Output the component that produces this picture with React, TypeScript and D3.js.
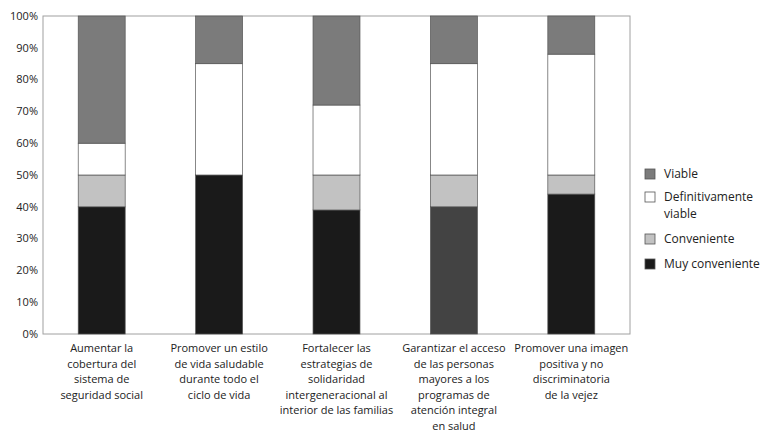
import { useEffect, useRef } from "react";
import * as d3 from "d3";

const categories = [
  ["Aumentar la", "cobertura del", "sistema de", "seguridad social"],
  ["Promover un estilo", "de vida saludable", "durante todo el", "ciclo de vida"],
  ["Fortalecer las", "estrategias de", "solidaridad", "intergeneracional al", "interior de las familias"],
  ["Garantizar el acceso", "de las personas", "mayores a los", "programas de", "atención integral", "en salud"],
  ["Promover una imagen", "positiva y no", "discriminatoria", "de la vejez"],
];

const muyConveniente = [40, 50, 39, 40, 44];
const conveniente = [10, 0, 11, 10, 6];
const definitivamenteViable = [10, 35, 22, 35, 38];
const viable = [40, 15, 28, 15, 12];

const seriesNames = ["Muy conveniente", "Conveniente", "Definitivamente viable", "Viable"];
const yTicks = [0, 10, 20, 30, 40, 50, 60, 70, 80, 90, 100];

const colors: Record<string, string> = {
  "Muy conveniente": "#1a1a1a",
  Conveniente: "#c2c2c2",
  "Definitivamente viable": "#ffffff",
  Viable: "#7b7b7b",
};

const FONT = "'Open Sans', 'Lato', sans-serif";

export default function App() {
  const ref = useRef<SVGSVGElement | null>(null);

  useEffect(() => {
    if (!ref.current) return;
    const svg = d3.select(ref.current);
    svg.selectAll("*").remove();

    const margin = { top: 16, left: 43, right: 133, bottom: 99 };
    const width = 763;
    const height = 433;
    const plotW = width - margin.left - margin.right;
    const plotH = height - margin.top - margin.bottom;

    const x = d3
      .scaleBand<number>()
      .domain(d3.range(categories.length))
      .range([margin.left, margin.left + plotW])
      .paddingInner(0.6)
      .paddingOuter(0.3);

    const y = d3.scaleLinear().domain([0, 100]).range([margin.top + plotH, margin.top]);

    const table = categories.map((_, i) => ({
      "Muy conveniente": muyConveniente[i],
      Conveniente: conveniente[i],
      "Definitivamente viable": definitivamenteViable[i],
      Viable: viable[i],
      idx: i,
    }));

    const stacked = d3.stack<any>().keys(seriesNames)(table);

    // frame
    svg
      .append("rect")
      .attr("x", margin.left)
      .attr("y", margin.top)
      .attr("width", plotW)
      .attr("height", plotH)
      .attr("fill", "none")
      .attr("stroke", "#a0a0a0")
      .attr("stroke-width", 1);

    stacked.forEach((layer) => {
      svg
        .append("g")
        .selectAll("rect")
        .data(layer)
        .join("rect")
        .filter((d) => d[1] - d[0] > 0)
        .attr("x", (d) => x(d.data.idx)!)
        .attr("width", x.bandwidth())
        .attr("y", (d) => y(d[1]))
        .attr("height", (d) => y(d[0]) - y(d[1]))
        .attr("fill", (d) =>
          layer.key === "Muy conveniente" && d.data.idx === 3 ? "#434343" : colors[layer.key]
        )
        .attr("stroke", "#555")
        .attr("stroke-width", 0.7);
    });

    // y axis labels
    svg
      .append("g")
      .selectAll("text")
      .data(yTicks)
      .join("text")
      .attr("x", margin.left - 5)
      .attr("y", (d) => y(d))
      .attr("dy", "0.35em")
      .attr("text-anchor", "end")
      .attr("font-family", FONT)
      .attr("font-size", 11)
      .attr("fill", "#222")
      .text((d) => `${d}%`);

    // x labels
    const xl = svg.append("g");
    categories.forEach((lines, i) => {
      const t = xl
        .append("text")
        .attr("text-anchor", "middle")
        .attr("font-family", FONT)
        .attr("font-size", 11)
        .attr("fill", "#222");
      lines.forEach((ln, j) => {
        t.append("tspan")
          .attr("x", x(i)! + x.bandwidth() / 2)
          .attr("y", margin.top + plotH + 18 + j * 15.5)
          .text(ln);
      });
    });

    // legend
    const legend = [
      { key: "Viable", lines: ["Viable"], y: 174 },
      { key: "Definitivamente viable", lines: ["Definitivamente", "viable"], y: 197 },
      { key: "Conveniente", lines: ["Conveniente"], y: 239 },
      { key: "Muy conveniente", lines: ["Muy conveniente"], y: 264 },
    ];
    const lg = svg.append("g");
    legend.forEach((item) => {
      lg.append("rect")
        .attr("x", 645)
        .attr("y", item.y - 5)
        .attr("width", 10)
        .attr("height", 10)
        .attr("fill", colors[item.key])
        .attr("stroke", "#555")
        .attr("stroke-width", 0.8);
      const t = lg
        .append("text")
        .attr("font-family", FONT)
        .attr("font-size", 12)
        .attr("fill", "#222");
      item.lines.forEach((ln, j) => {
        t.append("tspan")
          .attr("x", 664)
          .attr("y", item.y + 4 + j * 17)
          .text(ln);
      });
    });
  }, []);

  return (
    <svg
      ref={ref}
      width={763}
      height={433}
      style={{ position: "absolute", left: 0, top: 0, background: "#fff" }}
    />
  );
}
